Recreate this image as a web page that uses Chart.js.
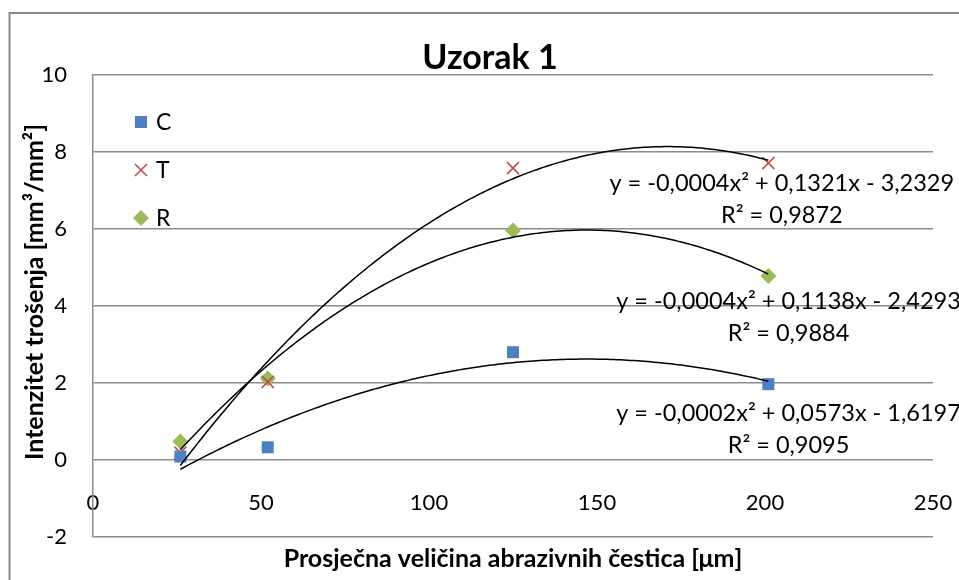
<!DOCTYPE html>
<html>
<head>
<meta charset="utf-8">
<script src="https://cdn.jsdelivr.net/npm/chart.js@4.4.0/dist/chart.umd.min.js"></script>
<style>
  html, body { margin: 0; padding: 0; background: #fff; overflow: hidden; }
  #wrap { position: absolute; left: 0; top: 0; width: 980px; height: 600px; }
</style>
</head>
<body>
<div id="wrap"><canvas id="myChart" width="980" height="600"></canvas></div>
<script>
// mean abrasive particle size [µm]
const sizes = [26, 52, 125, 201];
// wear intensity per sample series
const valuesC = [0.09, 0.33, 2.80, 1.97];
const valuesT = [0.19, 2.03, 7.58, 7.71];
const valuesR = [0.48, 2.12, 5.96, 4.78];

const xTicks = [0, 50, 100, 150, 200, 250];
const yTicks = [-2, 0, 2, 4, 6, 8, 10];

const eqC = ['y = -0,0002x² + 0,0573x - 1,6197', 'R² = 0,9095'];
const eqT = ['y = -0,0004x² + 0,1321x - 3,2329', 'R² = 0,9872'];
const eqR = ['y = -0,0004x² + 0,1138x - 2,4293', 'R² = 0,9884'];

const FONT = 'Lato';
const GRID = '#8c8c8c';

// least squares fit y = a*x^2 + b*x + c
function quadFit(xs, ys) {
  const s = [0, 0, 0, 0, 0], t = [0, 0, 0];
  for (let i = 0; i < xs.length; i++) {
    for (let k = 0; k < 5; k++) s[k] += Math.pow(xs[i], k);
    for (let k = 0; k < 3; k++) t[k] += ys[i] * Math.pow(xs[i], k);
  }
  const m = [
    [s[4], s[3], s[2], t[2]],
    [s[3], s[2], s[1], t[1]],
    [s[2], s[1], s[0], t[0]],
  ];
  for (let i = 0; i < 3; i++) {
    for (let j = i + 1; j < 3; j++) {
      const f = m[j][i] / m[i][i];
      for (let k = i; k < 4; k++) m[j][k] -= f * m[i][k];
    }
  }
  const r = [0, 0, 0];
  for (let i = 2; i >= 0; i--) {
    let v = m[i][3];
    for (let k = i + 1; k < 3; k++) v -= m[i][k] * r[k];
    r[i] = v / m[i][i];
  }
  return r;
}

function points(xs, ys) {
  return xs.map((x, i) => ({ x: x, y: ys[i] }));
}

function trend(xs, ys) {
  const [a, b, c] = quadFit(xs, ys);
  const out = [];
  const x0 = xs[0], x1 = xs[xs.length - 1];
  for (let x = x0; x < x1; x += 1) out.push({ x: x, y: a * x * x + b * x + c });
  out.push({ x: x1, y: a * x1 * x1 + b * x1 + c });
  return out;
}

function trendSet(xs, ys) {
  return {
    data: trend(xs, ys),
    showLine: true,
    borderColor: '#000',
    borderWidth: 1.5,
    pointRadius: 0,
    tension: 0,
    order: 0,
  };
}

const series = [
  { label: 'C', data: points(sizes, valuesC), pointStyle: 'rect', pointRadius: 8.5,
    pointBackgroundColor: '#4F81BD', pointBorderColor: '#4F81BD', pointBorderWidth: 0, showLine: false, order: 1 },
  { label: 'T', data: points(sizes, valuesT), pointStyle: 'crossRot', pointRadius: 8.5,
    pointBackgroundColor: '#C0504D', pointBorderColor: '#C0504D', pointBorderWidth: 1.6, showLine: false, order: 1 },
  { label: 'R', data: points(sizes, valuesR), pointStyle: 'rectRot', pointRadius: 8,
    pointBackgroundColor: '#9BBB59', pointBorderColor: '#9BBB59', pointBorderWidth: 0, showLine: false, order: 1 },
];

// outer frame of the chart and its title
const frame = {
  id: 'frame',
  beforeDraw(chart) {
    const ctx = chart.ctx;
    ctx.save();
    ctx.strokeStyle = '#888';
    ctx.lineWidth = 2;
    ctx.strokeRect(9.5, 13, 1000, 1000);
    ctx.fillStyle = '#000';
    ctx.font = 'bold 34px ' + FONT;
    ctx.textAlign = 'center';
    ctx.textBaseline = 'middle';
    ctx.fillText('Uzorak 1', chart.width / 2, 58);
    ctx.restore();
  },
};

// legend in the top-left corner of the plot
const innerLegend = {
  id: 'innerLegend',
  afterDraw(chart) {
    const ctx = chart.ctx;
    const area = chart.chartArea;
    ctx.save();
    series.forEach((s, i) => {
      const x = area.left + 48;
      const y = area.top + 47 + i * 48;
      ctx.fillStyle = s.pointBackgroundColor;
      ctx.strokeStyle = s.pointBorderColor;
      ctx.lineWidth = s.pointBorderWidth;
      Chart.helpers.drawPoint(ctx, { pointStyle: s.pointStyle, radius: s.pointRadius, rotation: 0, borderWidth: s.pointBorderWidth }, x, y);
      ctx.fillStyle = '#000';
      ctx.font = '23px ' + FONT;
      ctx.textBaseline = 'middle';
      ctx.textAlign = 'left';
      ctx.fillText(s.label, x + 15, y + 1);
    });
    ctx.restore();
  },
};

// trendline equations, anchored in data units
const eqLabels = [
  { lines: eqT, x: 205, y: 7.19 },
  { lines: eqR, x: 207, y: 4.11 },
  { lines: eqC, x: 207, y: 1.21 },
];

const equations = {
  id: 'equations',
  afterDraw(chart) {
    const ctx = chart.ctx;
    const xs = chart.scales.x, ys = chart.scales.y;
    ctx.save();
    ctx.fillStyle = '#000';
    ctx.font = '23.5px ' + FONT;
    ctx.textAlign = 'center';
    ctx.textBaseline = 'middle';
    eqLabels.forEach(l => {
      const px = xs.getPixelForValue(l.x);
      const py = ys.getPixelForValue(l.y);
      l.lines.forEach((t, i) => ctx.fillText(t, px, py + i * 32));
    });
    ctx.restore();
  },
};

// axis titles
const axisTitles = {
  id: 'axisTitles',
  afterDraw(chart) {
    const ctx = chart.ctx;
    const area = chart.chartArea;
    ctx.save();
    ctx.fillStyle = '#000';
    ctx.font = 'bold 25px ' + FONT;
    ctx.textAlign = 'center';
    ctx.textBaseline = 'middle';
    ctx.fillText('Prosječna veličina abrazivnih čestica [μm]', (area.left + area.right) / 2, 559);
    ctx.translate(35, 292);
    ctx.rotate(-Math.PI / 2);
    ctx.fillText('Intenzitet trošenja [mm³/mm²]', 0, 0);
    ctx.restore();
  },
};

const ctx = document.getElementById('myChart').getContext('2d');
const myChart = new Chart(ctx, {
  type: 'scatter',
  data: {
    datasets: [
      trendSet(sizes, valuesT),
      trendSet(sizes, valuesR),
      trendSet(sizes, valuesC),
    ].concat(series),
  },
  options: {
    responsive: false,
    animation: false,
    events: [],
    layout: { padding: { top: 75, right: 47, bottom: 63, left: 0 } },
    plugins: {
      legend: { display: false },
      tooltip: { enabled: false },
      title: { display: false },
    },
    scales: {
      x: {
        type: 'linear',
        position: { y: 0 },
        min: xTicks[0],
        max: xTicks[xTicks.length - 1],
        ticks: {
          stepSize: xTicks[1] - xTicks[0],
          autoSkip: false,
          maxRotation: 0,
          padding: 22,
          color: '#000',
          font: { family: FONT, size: 22 },
        },
        grid: { display: false },
        border: { display: false },
      },
      y: {
        min: yTicks[0],
        max: yTicks[yTicks.length - 1],
        afterFit(scale) { scale.width = 93; },
        ticks: {
          stepSize: yTicks[1] - yTicks[0],
          padding: 26,
          color: '#000',
          font: { family: FONT, size: 22 },
        },
        grid: { color: GRID, lineWidth: 1.5, drawTicks: false },
        border: { color: GRID, width: 1.5 },
      },
    },
  },
  plugins: [frame, innerLegend, equations, axisTitles],
});
</script>
</body>
</html>
